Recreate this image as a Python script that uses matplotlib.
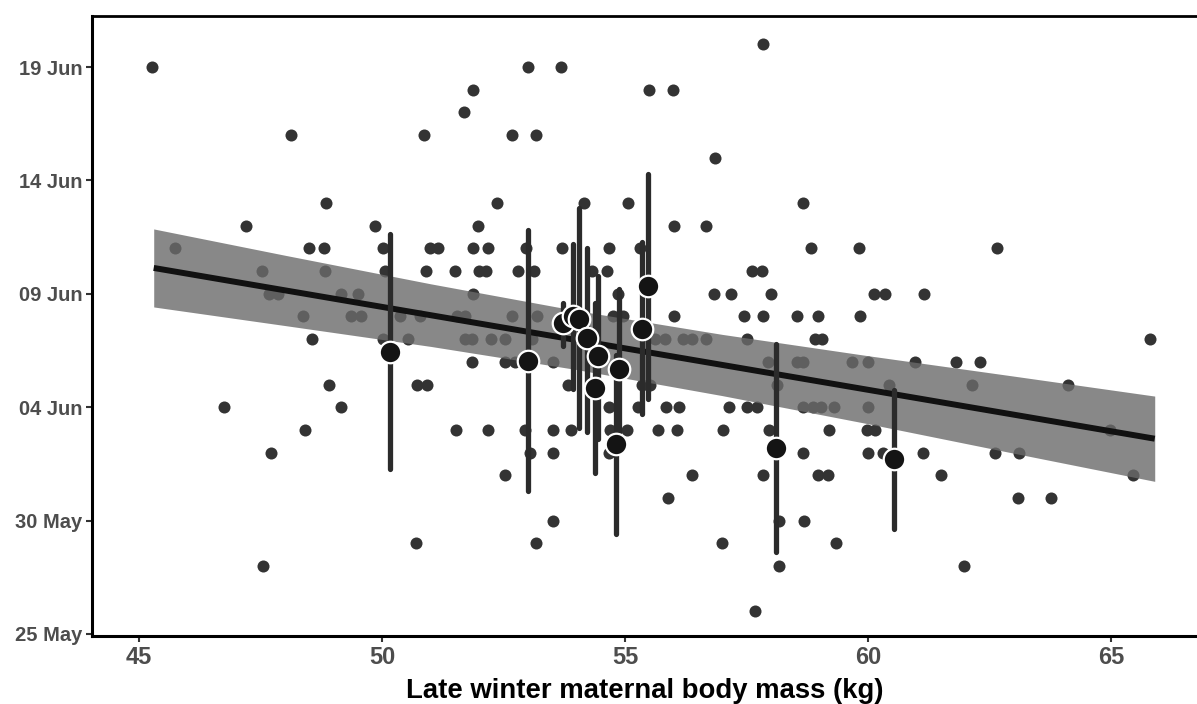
import datetime as dt
import numpy as np
import matplotlib
matplotlib.use("Agg")
import matplotlib.pyplot as plt

plt.rcParams['font.family'] = ['Liberation Sans', 'DejaVu Sans']

# days are counted from 25 May
base_date = dt.date(2000, 5, 25)

# individual females: body mass (kg) and parturition day
mass = [57.84,
        45.27, 53.0, 53.68,
        51.87, 55.49, 55.99,
        51.69,
        48.13, 50.86, 52.68, 53.17,
        56.85,
        48.85, 52.37, 54.15, 55.06, 58.66,
        47.20, 49.86, 51.98, 56.01, 56.67,
        45.74, 48.50, 48.81, 50.02, 50.99, 51.15, 51.87, 52.18, 52.96, 53.70, 54.67, 55.31, 58.83, 59.81, 62.65,
        47.53, 48.83, 50.06, 50.91, 51.50, 52.0, 52.14, 52.80, 53.13, 54.32, 54.63, 57.61, 57.82,
        47.67, 47.86, 49.16, 49.51, 51.87, 54.86, 56.83, 57.18, 58.0, 60.12, 60.35, 61.15,
        48.37, 49.36, 49.57, 50.37, 50.78, 51.54, 51.71, 52.68, 53.19, 54.75, 54.96, 56.01, 57.45, 57.84, 58.54, 58.98, 59.84,
        48.56, 50.02, 50.53, 51.71, 51.85, 52.24, 52.53, 53.09, 55.62, 55.82, 56.19, 56.38, 56.67, 57.51, 58.9, 59.05, 65.8,
        51.85, 52.53, 52.74, 53.52, 57.94, 58.54, 58.66, 59.67, 60.0, 60.97, 61.81, 62.30,
        48.91, 50.72, 50.93, 53.83, 55.35, 55.51, 58.13, 60.43, 62.14, 64.12,
        46.75, 49.16, 54.67, 55.27, 55.84, 56.11, 57.14, 57.51, 57.72, 58.66, 58.87, 59.03, 59.30, 60.0,
        48.42, 51.53, 52.18, 52.94, 53.52, 53.89, 54.69, 55.04, 55.68, 56.07, 57.02, 57.96, 59.2, 59.98, 60.14, 64.98,
        47.72, 53.05, 53.52, 54.67, 58.66, 60.0, 60.31, 61.13, 62.61, 63.11,
        52.53, 56.38, 57.84, 58.97, 59.18, 61.5, 65.45,
        55.88, 63.09, 63.77,
        53.52, 58.17, 58.68,
        50.70, 53.17, 57.0, 59.34,
        47.55, 58.17, 61.98,
        57.67]
day = ([26] + [25] * 3 + [24] * 3 + [23] + [22] * 4 + [21] + [19] * 5 + [18] * 5 +
       [17] * 15 + [16] * 13 + [15] * 12 + [14] * 17 + [13] * 17 + [12] * 12 +
       [11] * 10 + [10] * 14 + [9] * 16 + [8] * 10 + [7] * 7 + [6] * 3 + [5] * 3 +
       [4] * 4 + [3] * 3 + [1])

# group means with intervals
grp_mass = [50.16, 53.00, 53.72, 53.93, 54.05, 54.22, 54.45, 54.38, 54.88, 54.81, 55.35, 55.47, 58.10, 60.53]
grp_day = [12.43, 12.04, 13.7, 14.0, 13.9, 13.05, 12.25, 10.85, 11.7, 8.36, 13.45, 15.35, 8.2, 7.7]
grp_lo = [7.26, 6.3, 12.7, 10.8, 9.1, 8.9, 8.6, 7.1, 8.2, 4.4, 9.7, 10.35, 3.6, 4.65]
grp_hi = [17.65, 17.8, 14.6, 17.2, 18.8, 17.0, 15.8, 14.6, 15.2, 12.3, 17.3, 20.3, 12.8, 10.75]

# fitted line and confidence band
fit_x = [45.3, 65.9]
fit_y = [16.14, 8.61]
band_x = [45.3, 48.0, 51.0, 54.0, 57.0, 60.0, 63.0, 65.9]
band_lo = [14.42, 13.60, 12.68, 11.66, 10.51, 9.27, 7.97, 6.73]
band_hi = [17.86, 16.70, 15.44, 14.26, 13.21, 12.27, 11.37, 10.49]

ytick_days = [0, 5, 10, 15, 20, 25]
xticks = [45, 50, 55, 60, 65]

fig = plt.figure(figsize=(11.97, 7.04), dpi=100)
ax = fig.add_axes([92 / 1197, 1 - 636 / 704, 1 - 92 / 1197, (636 - 16) / 704])

ax.scatter(mass, day, s=75, color='#333333', linewidths=0, zorder=2)

ax.fill_between(band_x, band_lo, band_hi, color='#6b6b6b', alpha=0.8, linewidth=0, zorder=3)
ax.plot(fit_x, fit_y, color='#111111', lw=4.3, solid_capstyle='butt', zorder=4)

ax.vlines(grp_mass, grp_lo, grp_hi, colors='#2b2b2b', lw=3.8, capstyle='round', zorder=5)
ax.scatter(grp_mass, grp_day, s=240, color='#141414', edgecolors='white', linewidths=1.6, zorder=6)

ax.set_xlim(44.03, 66.77)
ax.set_ylim(-0.09, 27.25)
ax.set_xticks(xticks)
ax.set_yticks(ytick_days)
ax.set_yticklabels([(base_date + dt.timedelta(days=d)).strftime('%d %b') for d in ytick_days])

for lab in ax.get_xticklabels():
    lab.set_fontweight('bold')
    lab.set_fontsize(17)
for lab in ax.get_yticklabels():
    lab.set_fontweight('bold')
    lab.set_fontsize(14.5)
ax.tick_params(length=4, width=1.5, color='#333333', labelcolor='#4d4d4d', pad=3)

ax.set_xlabel('Late winter maternal body mass (kg)', fontsize=19.8, fontweight='bold', color='black', labelpad=7)

for side in ['left', 'bottom']:
    ax.spines[side].set_linewidth(2.2)
ax.spines['top'].set_linewidth(2)
ax.spines['right'].set_visible(False)

fig.savefig('out.png', dpi=100)
